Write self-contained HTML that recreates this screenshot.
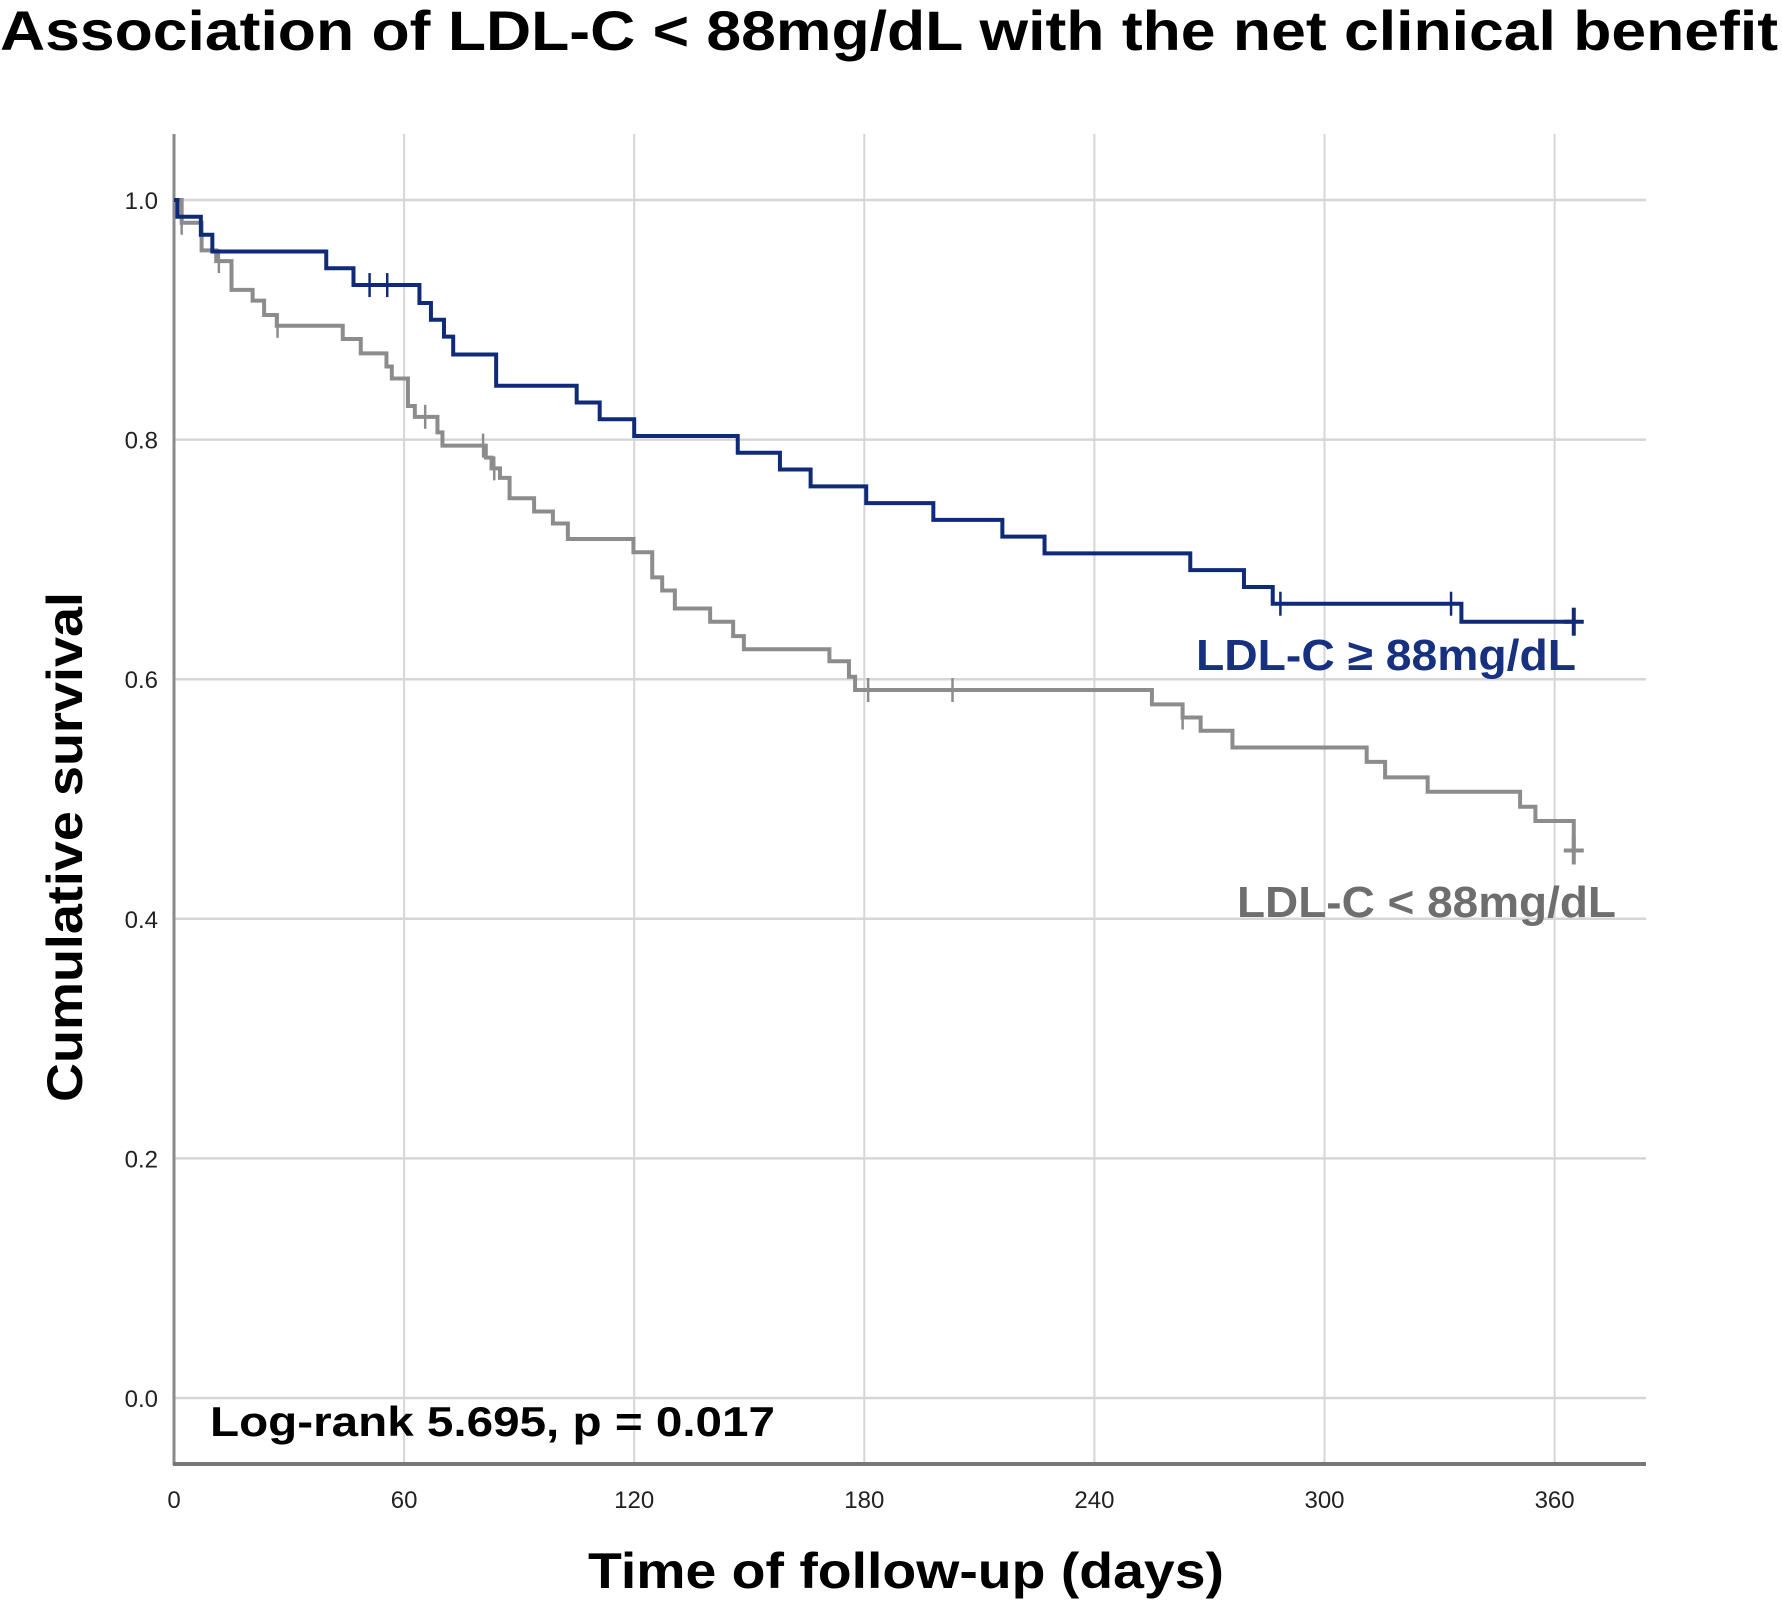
<!DOCTYPE html>
<html><head><meta charset="utf-8"><style>
html,body{margin:0;padding:0;background:#fff;}
svg{display:block;}
text{font-family:"Liberation Sans",sans-serif;}
</style></head><body>
<svg id="chart" width="1782" height="1602" viewBox="0 0 1782 1602" xmlns="http://www.w3.org/2000/svg">
<text x="0" y="50" font-size="56" font-weight="bold" textLength="1778" lengthAdjust="spacingAndGlyphs" fill="#000">Association of LDL-C &lt; 88mg/dL with the net clinical benefit</text>
<g id="grid"></g>
<g id="axes"></g>
<g id="series"></g>
<text transform="translate(82,847) rotate(-90)" text-anchor="middle" font-size="50" font-weight="bold" textLength="510" lengthAdjust="spacingAndGlyphs">Cumulative survival</text>
<text x="906" y="1588" text-anchor="middle" font-size="50" font-weight="bold" textLength="636" lengthAdjust="spacingAndGlyphs">Time of follow-up (days)</text>
<text x="210" y="1436" font-size="42" font-weight="bold" textLength="565" lengthAdjust="spacingAndGlyphs">Log-rank 5.695, p = 0.017</text>
<text x="1196" y="670" font-size="44" font-weight="bold" fill="#17307f" textLength="380" lengthAdjust="spacingAndGlyphs">LDL-C ≥ 88mg/dL</text>
<text x="1237" y="917" font-size="44" font-weight="bold" fill="#6e6e6e" textLength="379" lengthAdjust="spacingAndGlyphs">LDL-C &lt; 88mg/dL</text>
</svg>
<script>
const xTicks = [0, 60, 120, 180, 240, 300, 360];
const yTicks = [0.0, 0.2, 0.4, 0.6, 0.8, 1.0];
const yTickLabels = ["0.0", "0.2", "0.4", "0.6", "0.8", "1.0"];
const highTimes = [0, 0.9, 7, 10, 39.7, 46.8, 64, 67, 70.4, 72.8, 84, 105, 111, 120, 147, 158, 166, 180.5, 198, 216, 227, 265, 279, 286.5, 335.7];
const highSurv = [1, 0.986, 0.971, 0.957, 0.943, 0.929, 0.914, 0.9, 0.886, 0.871, 0.845, 0.831, 0.817, 0.803, 0.789, 0.775, 0.761, 0.747, 0.733, 0.719, 0.705, 0.691, 0.677, 0.663, 0.648];
const highEnd = 365;
const highCensor = [51, 55.6, 288.5, 333, 365];
const lowTimes = [0, 2, 7.2, 11, 15, 20.5, 23.5, 26.8, 44, 48.7, 55.4, 56.8, 61, 62.8, 68.7, 70, 81.3, 82.8, 85, 87.5, 93.9, 98.8, 102.7, 119.8, 124.7, 127.3, 130.6, 139.8, 145.8, 148.6, 170.9, 176, 177.6, 255, 263, 267.7, 276, 311, 315.8, 326.9, 351, 355];
const lowSurv = [1, 0.981, 0.958, 0.949, 0.925, 0.916, 0.904, 0.895, 0.884, 0.872, 0.861, 0.851, 0.828, 0.819, 0.806, 0.795, 0.785, 0.776, 0.768, 0.751, 0.74, 0.73, 0.717, 0.706, 0.685, 0.674, 0.659, 0.648, 0.636, 0.625, 0.615, 0.602, 0.591, 0.579, 0.568, 0.557, 0.543, 0.531, 0.518, 0.506, 0.4935, 0.4816];
const lowEnd = 365;
const lowEndSurv = 0.457;
const lowCensor = [2, 11.7, 27, 65.5, 80.6, 83.5, 181, 203, 263];

const NS = "http://www.w3.org/2000/svg";
const X0 = 174, PXD = 3.835, Y0 = 1398, PXS = 1198;
const xs = d => X0 + d * PXD;
const ys = s => Y0 - s * PXS;
function mk(tag, attrs, parent){const e=document.createElementNS(NS,tag);for(const k in attrs)e.setAttribute(k,attrs[k]);parent.appendChild(e);return e;}
const grid=document.getElementById('grid'), axes=document.getElementById('axes'), series=document.getElementById('series');
xTicks.forEach(t=>{
  const l=mk('line',{x1:xs(t),x2:xs(t),y1:134,y2:1464,stroke:'#d6d6d6','stroke-width':2},grid);
  
  
  const tx=mk('text',{x:xs(t),y:1508,'text-anchor':'middle','font-size':24,fill:'#222'},axes);
  
  
  tx.textContent=String(t);
});
yTicks.forEach((t,i)=>{
  const l=mk('line',{x1:X0,x2:1646,y1:ys(t),y2:ys(t),stroke:'#d6d6d6','stroke-width':2.5},grid);
  
  
  const tx=mk('text',{x:158,y:ys(t)+9,'text-anchor':'end','font-size':24,fill:'#222'},axes);
  
  
  tx.textContent=yTickLabels[i];
});
const ya=mk('line',{x1:X0,x2:X0,y1:134,y2:1465,stroke:'#8a8a8a','stroke-width':3},axes);


const xa=mk('line',{x1:X0-1,x2:1646,y1:1464,y2:1464,stroke:'#777','stroke-width':4},axes);



function stepPath(times, surv, endT, endS){
  let d='M'+xs(times[0])+','+ys(surv[0]);
  for(let i=1;i<times.length;i++){d+=' H'+xs(times[i])+' V'+ys(surv[i]);}
  d+=' H'+xs(endT);
  if(endS!==undefined) d+=' V'+ys(endS);
  return d;
}
function survAt(times,surv,t){let s=surv[0];for(let i=0;i<times.length;i++){if(times[i]<=t)s=surv[i];}return s;}
function drawSeries(times,surv,endT,endS,censor,color,name){
  const p=mk('path',{d:stepPath(times,surv,endT,endS),fill:'none',stroke:color,'stroke-width':4},series);
  
  
  censor.forEach(c=>{
    let s=survAt(times,surv,c);
    if(c>=endT && endS!==undefined) s=endS;
    const last=c>=endT;
    const l=mk('line',{x1:xs(c),x2:xs(c),y1:ys(s)-(last?14:12),y2:ys(s)+(last?14:12),stroke:color,'stroke-width':last?4:2.5},series);
    
    
    if(last){
      const h=mk('line',{x1:xs(c)-10,x2:xs(c)+10,y1:ys(s),y2:ys(s),stroke:color,'stroke-width':4},series);
      
      
    }
  });
}
drawSeries(lowTimes,lowSurv,lowEnd,lowEndSurv,lowCensor.concat([lowEnd]),'#8c8c8c','ldl-low');
drawSeries(highTimes,highSurv,highEnd,undefined,highCensor,'#0f2a78','ldl-high');
</script>
</body></html>
